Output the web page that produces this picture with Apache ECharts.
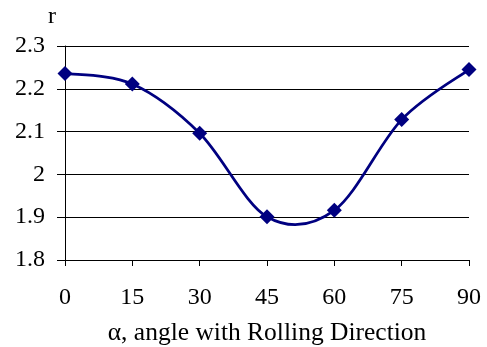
<!DOCTYPE html>
<html><head><meta charset="utf-8">
<script src="https://cdn.jsdelivr.net/npm/echarts@6/dist/echarts.min.js"></script>
<style>html,body{margin:0;padding:0;background:#fff}#c{width:487px;height:347px}</style>
</head><body><div id="c"></div>
<script>
const angles = [0, 15, 30, 45, 60, 75, 90];
const rValues = [2.236, 2.211, 2.096, 1.901, 1.916, 2.128, 2.245];
const xTitle = 'α, angle with Rolling Direction';
const yTitle = 'r';

const font = '"Liberation Serif", "Times New Roman", serif';
const fs = 24;
const navy = '#000080';
const chart = echarts.init(document.getElementById('c'));

// Excel-style smoothed segment between point i and i+1 (cubic Bezier, tension 1/6)
function renderSegment(params, api) {
  const i = params.dataIndex;
  if (i >= angles.length - 1) return null;
  const P = j => {
    const k = Math.max(0, Math.min(angles.length - 1, j));
    return api.coord([angles[k], rValues[k]]);
  };
  const p0 = P(i - 1), p1 = P(i), p2 = P(i + 1), p3 = P(i + 2);
  const c1 = [p1[0] + (p2[0] - p0[0]) / 6, p1[1] + (p2[1] - p0[1]) / 6];
  const c2 = [p2[0] - (p3[0] - p1[0]) / 6, p2[1] - (p3[1] - p1[1]) / 6];
  return {
    type: 'bezierCurve',
    shape: { x1: p1[0], y1: p1[1], cpx1: c1[0], cpy1: c1[1], cpx2: c2[0], cpy2: c2[1], x2: p2[0], y2: p2[1] },
    style: { stroke: navy, lineWidth: 2.75, fill: null }
  };
}

const pts = angles.map((a, i) => [a, rValues[i]]);
chart.setOption({
  animation: false,
  backgroundColor: '#fff',
  title: { text: yTitle, left: 43, top: 0, textStyle: { fontFamily: font, fontSize: fs, fontWeight: 'normal', color: '#000' } },
  grid: { left: 65, right: 18, top: 46, bottom: 87, outerBoundsMode: 'none', containLabel: false },
  xAxis: {
    type: 'value', min: 0, max: 90, interval: 15,
    name: xTitle, nameLocation: 'middle', nameGap: 60,
    nameTextStyle: { fontFamily: font, fontSize: 25.5, color: '#000' },
    axisLine: { show: true, onZero: false, lineStyle: { color: '#000', width: 1 } },
    axisTick: { show: true, length: 6, lineStyle: { color: '#000' } },
    axisLabel: { fontFamily: font, fontSize: fs, color: '#000', margin: 26 },
    splitLine: { show: false }
  },
  yAxis: {
    type: 'value', min: 1.8, max: 2.3, interval: 0.1,
    axisLine: { show: true, lineStyle: { color: '#000', width: 1 } },
    axisTick: { show: true, length: 8, lineStyle: { color: '#000' } },
    axisLabel: { fontFamily: font, fontSize: fs, color: '#000', margin: 20,
      formatter: v => String(Math.round(v * 10) / 10) },
    splitLine: { show: true, lineStyle: { color: '#000', width: 1 } }
  },
  series: [
    { type: 'custom', data: pts, renderItem: renderSegment, clip: false, z: 2 },
    { type: 'scatter', data: pts, symbol: 'diamond', symbolSize: 15,
      itemStyle: { color: navy, opacity: 1 }, z: 3 }
  ]
});
</script></body></html>
